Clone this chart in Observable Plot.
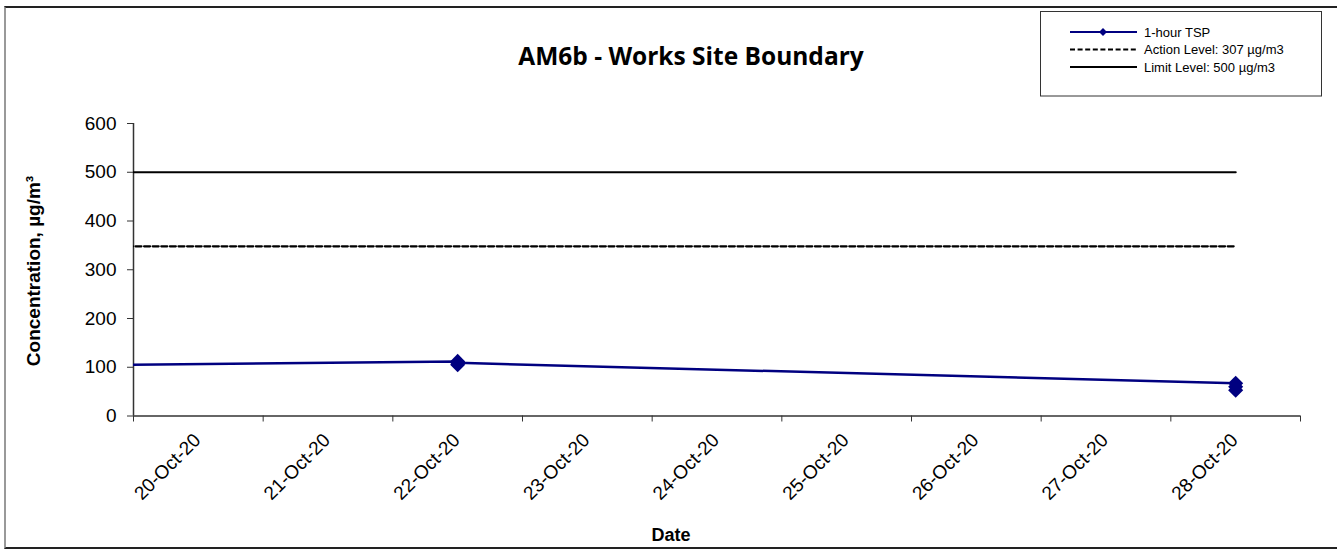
<!DOCTYPE html>
<html>
<head>
<meta charset="utf-8">
<script src="https://cdn.jsdelivr.net/npm/d3@7"></script>
<script src="https://cdn.jsdelivr.net/npm/@observablehq/plot@0.6"></script>
<style>
  html, body { margin: 0; padding: 0; background: #fff; }
  #wrap { position: relative; width: 1337px; height: 555px; overflow: hidden; background: #fff; }
  #wrap > svg { position: absolute; left: 0; top: 0; }
  #border { position: absolute; left: 4px; top: 6px; width: 1345px; height: 543px;
            border-top: 2px solid #222; border-left: 2px solid #999; border-bottom: 2px solid #222; box-sizing: border-box; }
</style>
</head>
<body>
<div id="wrap"><div id="border"></div></div>
<script>
// ---------------- data ----------------
const chartTitle = "AM6b - Works Site Boundary";
const yLabel = "Concentration, µg/m³";
const xLabel = "Date";

const dayLabels = ["20-Oct-20","21-Oct-20","22-Oct-20","23-Oct-20","24-Oct-20","25-Oct-20","26-Oct-20","27-Oct-20","28-Oct-20"];
const yTicks = [0, 100, 200, 300, 400, 500, 600];

// 1-hour TSP readings (three per monitoring day; earlier day only partly in view)
const tspDates  = ["16-Oct-20","22-Oct-20","22-Oct-20","22-Oct-20","28-Oct-20","28-Oct-20","28-Oct-20"];
const tspValues = [95, 112, 105, 109, 67, 53, 60];

const levelDates  = ["16-Oct-20","28-Oct-20"];
const actionLevel = 348;   // as drawn
const limitLevel  = 500;

const seriesNames = ["1-hour TSP", "Action Level: 307 µg/m3", "Limit Level: 500 µg/m3"];

// ---------------- build ----------------
const parse = d3.utcParse("%d-%b-%y");
const fmt = d3.utcFormat("%d-%b-%y");
const days = dayLabels.map(parse);
const tsp = tspDates.map((d, i) => ({date: parse(d), value: tspValues[i]}));
const action = levelDates.map(d => ({date: parse(d), value: actionLevel}));
const limit = levelDates.map(d => ({date: parse(d), value: limitLevel}));
// category boundaries (half a day either side of each date)
const edges = days.map(d => d3.utcHour.offset(d, -12)).concat([d3.utcHour.offset(days[days.length - 1], 12)]);

const navy = "#000080";
const axisColor = "#333";

const chart = Plot.plot({
  width: 1337,
  height: 555,
  marginLeft: 133,
  marginRight: 37,
  marginTop: 123,
  marginBottom: 139.5,
  style: {fontFamily: "'Liberation Sans', Arial, sans-serif", fontSize: "19px", color: "#000", background: "transparent"},
  x: {type: "utc", domain: [edges[0], edges[edges.length - 1]]},
  y: {domain: [0, 600]},
  marks: [
    Plot.axisY(yTicks, {tickSize: 6, tickPadding: 11, label: null, stroke: axisColor, fontSize: 19, fill: "#000"}),
    Plot.axisX(edges, {tickSize: 6, tickFormat: () => "", label: null, stroke: axisColor}),
    Plot.ruleY([0], {stroke: axisColor, strokeWidth: 1.5}),
    Plot.ruleX([edges[0]], {stroke: axisColor, strokeWidth: 1.5}),
    Plot.text(days, {x: d => d, frameAnchor: "bottom", text: d => fmt(d), rotate: -45, textAnchor: "end",
                     lineAnchor: "middle", dy: 21, dx: -1, fontSize: 19, fill: "#000"}),
    Plot.line(limit, {x: "date", y: "value", stroke: "#000", strokeWidth: 2.2, clip: true}),
    Plot.line(action, {x: "date", y: "value", stroke: "#000", strokeWidth: 2.2, strokeDasharray: "6,2.6", clip: true}),
    Plot.line(tsp, {x: "date", y: "value", stroke: navy, strokeWidth: 2.5, clip: true}),
    Plot.dot(tsp, {x: "date", y: "value", symbol: "diamond2", r: 6.8, fill: navy, stroke: "none", clip: true})
  ]
});
const wrap = document.getElementById("wrap");
wrap.appendChild(chart);

// ---------------- title, axis titles, legend ----------------
const W = 1337, H = 555;
const ov = d3.select(wrap).append("svg").attr("width", W).attr("height", H)
  .attr("font-family", "'Liberation Sans', Arial, sans-serif");

ov.append("text").attr("x", 691).attr("y", 65).attr("text-anchor", "middle")
  .attr("font-family", "'Open Sans', sans-serif").attr("font-weight", "bold").attr("font-size", 24.5)
  .text(chartTitle);

ov.append("text").attr("transform", "translate(33,271) rotate(-90)").attr("text-anchor", "middle")
  .attr("dominant-baseline", "central").attr("font-weight", "bold").attr("font-size", 19).text(yLabel);

ov.append("text").attr("x", 671).attr("y", 541).attr("text-anchor", "middle")
  .attr("font-weight", "bold").attr("font-size", 18).text(xLabel);

const lg = ov.append("g");
lg.append("rect").attr("x", 1040.5).attr("y", 11.5).attr("width", 281).attr("height", 84.5)
  .attr("fill", "#fff").attr("stroke", "#333").attr("stroke-width", 1);
const rows = [32, 49.5, 67];
const styles = [
  {stroke: navy, dash: null, marker: true},
  {stroke: "#000", dash: "5,2.6", marker: false},
  {stroke: "#000", dash: null, marker: false}
];
seriesNames.forEach((name, i) => {
  const y = rows[i], s = styles[i];
  lg.append("line").attr("x1", 1070).attr("x2", 1137).attr("y1", y).attr("y2", y)
    .attr("stroke", s.stroke).attr("stroke-width", 2).attr("stroke-dasharray", s.dash);
  if (s.marker) {
    lg.append("path").attr("d", d3.symbol(d3.symbolDiamond2, 40)()).attr("transform", `translate(1103,${y})`).attr("fill", navy);
  }
  lg.append("text").attr("x", 1144).attr("y", y).attr("dominant-baseline", "central")
    .attr("font-size", 13).text(name);
});
</script>
</body>
</html>
